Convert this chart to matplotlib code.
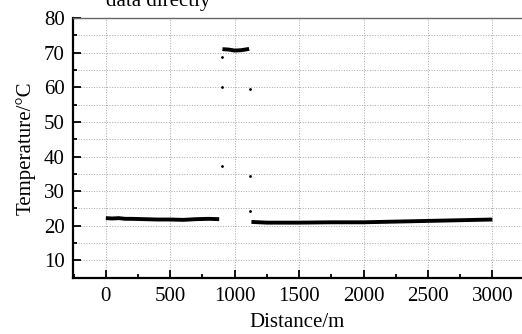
import numpy as np
import matplotlib.pyplot as plt
from matplotlib.ticker import MultipleLocator

plt.rcParams['font.family'] = ['Liberation Serif', 'DejaVu Serif']

# Temperature profile along the fibre, read as a band of readings
# ambient section before the heated zone
dist_a = [0, 50, 100, 150, 200, 300, 400, 500, 600, 700, 800, 880]
temp_a = [22.2, 22.1, 22.2, 22.0, 22.0, 21.9, 21.8, 21.8, 21.7, 21.9, 22.0, 21.9]
# heated zone
dist_h = [905, 950, 1000, 1050, 1100, 1112]
temp_h = [71.0, 70.9, 70.6, 70.7, 71.0, 71.1]
# ambient section after the heated zone
dist_b = [1130, 1250, 1500, 1750, 2000, 2250, 2500, 2750, 3000]
temp_b = [21.1, 20.9, 20.9, 21.0, 21.0, 21.2, 21.4, 21.6, 21.8]
# isolated readings on the rising / falling edges
edge_d = [898, 898, 898, 1118, 1120, 1122]
edge_t = [68.7, 60.2, 37.4, 59.5, 34.3, 24.2]

fig = plt.figure(figsize=(5.22, 3.34), dpi=100)
ax = fig.add_axes([0.1398, 0.1686, 0.8602, 0.7775])

for d, t in [(dist_a, temp_a), (dist_h, temp_h), (dist_b, temp_b)]:
    ax.plot(d, t, color='black', lw=2.8, solid_capstyle='butt')
ax.scatter(edge_d, edge_t, s=4, color='black', lw=0)

ax.set_xlim(-255, 3230)
ax.set_ylim(5, 80)
ax.xaxis.set_major_locator(MultipleLocator(500))
ax.xaxis.set_minor_locator(MultipleLocator(250))
ax.yaxis.set_major_locator(MultipleLocator(10))
ax.yaxis.set_minor_locator(MultipleLocator(5))
ax.set_yticks([10, 20, 30, 40, 50, 60, 70, 80])

ax.grid(True, which='major', axis='x', color='0.65', ls=':', lw=0.7)
ax.grid(True, which='both', axis='y', color='0.65', ls=':', lw=0.7)
ax.set_axisbelow(True)

ax.tick_params(which='both', direction='in', top=False, right=False,
               labelsize=15, width=1.3)
ax.tick_params(which='major', length=5.5)
ax.tick_params(which='minor', length=3)
ax.tick_params(axis='x', pad=7)
ax.tick_params(axis='y', pad=6)

for side in ['left', 'bottom']:
    ax.spines[side].set_linewidth(1.6)
ax.spines['top'].set_color('0.4')
ax.spines['top'].set_linewidth(1.0)
ax.spines['right'].set_visible(False)

ax.set_xlabel('Distance/m', fontsize=15, labelpad=5)
ax.set_ylabel('Temperature/°C', fontsize=15, labelpad=6)

fig.text(158 / 522, 1 - 6 / 334, 'data directly', ha='center', va='baseline',
         fontsize=15)

fig.savefig('out.png', dpi=100)
